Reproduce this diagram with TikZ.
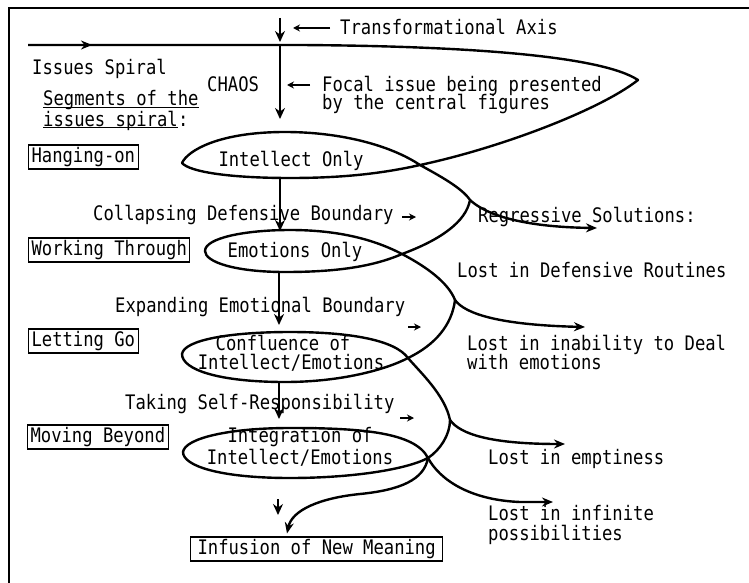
\documentclass[tikz,border=0pt]{standalone}
\usepackage{fontspec}
\setmainfont{DejaVu Sans Mono}[FakeStretch=0.86]
\usetikzlibrary{arrows.meta,calc}
\begin{document}
\begin{tikzpicture}[x=1pt,y=-1pt,
  lbl/.style={font=\fontsize{20}{20}\selectfont, inner sep=0pt, anchor=base west},
  lblc/.style={font=\fontsize{20}{20}\selectfont, inner sep=0pt, anchor=base},
  segbox/.style={draw, line width=1.1pt, font=\fontsize{20}{20}\selectfont, inner xsep=3pt, inner ysep=3pt, text height=14pt, text depth=4pt, anchor=west},
  spiral/.style={line width=2.4pt, line join=round},
  bigarr/.style={-{Stealth[length=11pt,width=9pt]}},
  axarr/.style={line width=1.8pt, -{Stealth[length=11pt,width=10pt]}},
  smallarr/.style={line width=1.4pt, -{Stealth[length=7pt,width=7pt]}}
]
\useasboundingbox (0,0) rectangle (749,583);
% frame
\draw[line width=1.6pt] (9,583) -- (9,8) -- (749,8);

% key coordinates of the spiral
\coordinate (s0) at (28,45);
\coordinate (c1) at (420,165);
\coordinate (k1) at (470,200);
\coordinate (c2) at (402,254);
\coordinate (k2) at (455,300);
\coordinate (c3) at (408,358);
\coordinate (k3) at (450,420);
\coordinate (c4) at (428,458);
\coordinate (e1) at (597,228);
\coordinate (e2) at (585,327);
\coordinate (e3) at (565,444);
\coordinate (e4) at (553,502);

% labels
\node[lbl] (tax) at (340,35) {Transformational Axis};
\node[lbl] (iss) at (32,75) {Issues Spiral};
\node[lbl] (chaos) at (207,92) {CHAOS};
\node[lbl] (foc1) at (322,92) {Focal issue being presented};
\node[lbl] (foc2) at (322,110) {by the central figures};
\node[lbl] (seg1) at (43,106) {Segments of the};
\node[lbl] (seg2) at (43,126) {issues spiral};
\node[lbl, anchor=base west] (segc) at (seg2.base east) {:};
\draw[line width=1.1pt] ($(seg1.base west)+(0,1.5)$) -- ($(seg1.base east)+(0,1.5)$);
\draw[line width=1.1pt] ($(seg2.base west)+(0,1.5)$) -- ($(seg2.base east)+(0,1.5)$);

\node[segbox] (hang) at (28,157) {Hanging-on};
\node[segbox] (work) at (28,250) {Working Through};
\node[segbox] (let) at (28,341) {Letting Go};
\node[segbox] (move) at (27,437) {Moving Beyond};
\node[segbox, inner xsep=7pt] (inf) at (190,549) {Infusion of New Meaning};

\node[lblc] (intel) at (291,166) {Intellect Only};
\node[lbl] (coll) at (93,220) {Collapsing Defensive Boundary};
\node[lblc] (emo) at (295,257) {Emotions Only};
\node[lbl] (expa) at (115,312) {Expanding Emotional Boundary};
\node[lblc] (conf1) at (283,350) {Confluence of};
\node[lblc] (conf2) at (291,369) {Intellect/Emotions};
\node[lbl] (take) at (125,409) {Taking Self-Responsibility};
\node[lblc] (integ1) at (300,442) {Integration of};
\node[lblc] (integ2) at (300,464) {Intellect/Emotions};

\node[lbl] (regr) at (478,222) {Regressive Solutions:};
\node[lbl] (ldr) at (457,277) {Lost in Defensive Routines};
\node[lbl] (lid1) at (467,350) {Lost in inability to Deal};
\node[lbl] (lid2) at (467,369) {with emotions};
\node[lbl] (lem) at (488,464) {Lost in emptiness};
\node[lbl] (lip1) at (488,520) {Lost in infinite};
\node[lbl] (lip2) at (488,540) {possibilities};

% the spiral
\draw[spiral, bigarr] (s0) -- (300,45)
  .. controls (460,46) and (600,55) .. (638,80)
  .. controls (600,110) and (500,148) .. (c1)
  .. controls (380,174) and (340,178) .. (290,178)
  .. controls (230,178) and (190,172) .. (182,163)
  .. controls (188,150) and (220,132) .. (285,132)
  .. controls (340,132) and (390,145) .. (c1)
  .. controls (440,176) and (462,188) .. (k1)
  .. controls (466,222) and (440,240) .. (c2)
  .. controls (370,268) and (330,272) .. (285,272)
  .. controls (235,272) and (205,262) .. (205,251)
  .. controls (205,238) and (245,230) .. (290,230)
  .. controls (340,230) and (375,240) .. (c2)
  .. controls (425,266) and (448,282) .. (k2)
  .. controls (452,325) and (435,345) .. (c3)
  .. controls (385,370) and (340,382) .. (285,382)
  .. controls (220,382) and (182,370) .. (182,354)
  .. controls (184,340) and (230,332) .. (290,332)
  .. controls (350,332) and (395,340) .. (c3)
  .. controls (420,372) and (445,395) .. (k3)
  .. controls (450,435) and (440,450) .. (c4)
  .. controls (405,470) and (350,478) .. (290,478)
  .. controls (220,478) and (183,466) .. (183,452)
  .. controls (185,438) and (230,428) .. (290,428)
  .. controls (360,428) and (415,432) .. (c4)
  .. controls (440,480) and (470,500) .. (520,502)
  -- (e4);
\draw[spiral, bigarr] (s0) -- (92,45);

% branches
\draw[spiral, bigarr] (k1) .. controls (485,214) and (520,227) .. (e1);
\draw[spiral, bigarr] (k2) .. controls (465,314) and (500,325) .. (e2);
\draw[spiral, bigarr] (k3) .. controls (460,434) and (490,444) .. (e3);
\coordinate (inftip) at ($(inf.north west)+(97,-3)$);
\draw[spiral, bigarr] (c4) .. controls (424,480) and (400,490) .. (360,494)
  .. controls (320,498) and (292,510) .. (inftip);

% transformational axis
\coordinate (ax0) at (280,18);
\coordinate (ax1) at (280,45);
\draw[axarr, line width=1.4pt] (ax0) -- (280,42);
\draw[axarr] (ax1) -- (280,119);
\draw[axarr] (280,178) -- (280,231);
\draw[axarr] (279,272) -- (279,325);
\draw[axarr] (279,382) -- (279,419);
\draw[axarr, line width=1.4pt] (278,499) -- (278,515);

% small arrows by the texts
\draw[smallarr] ($(tax.base west)+(-10,-7)$) -- ($(tax.base west)+(-47,-7)$);
\draw[smallarr] ($(foc1.base west)+(-12,-7)$) -- ($(foc1.base west)+(-35,-7)$);
\draw[smallarr] (402,217) -- (416,217);
\draw[smallarr] (408,327) -- (421,327);
\draw[smallarr] (400,418) -- (414,418);
\end{tikzpicture}
\end{document}
